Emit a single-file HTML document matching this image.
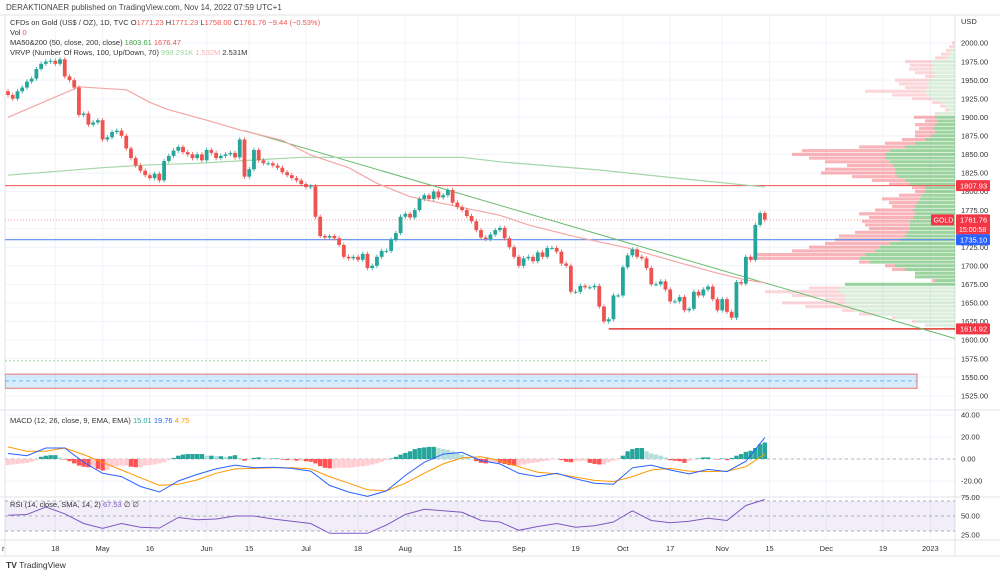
<!DOCTYPE html>
<html><head><meta charset="utf-8"><style>
html,body{margin:0;padding:0;background:#fff;}
svg{display:block;font-family:"Liberation Sans",sans-serif;}
</style></head><body>
<svg id="chart" width="1000" height="575" viewBox="0 0 1000 575" xmlns="http://www.w3.org/2000/svg">
<rect x="0" y="0" width="1000" height="575" fill="#fff"/>
<g id="grid"></g>
<defs>
<clipPath id="mainClip"><rect x="5" y="15" width="950" height="395"/></clipPath>
<clipPath id="macdClip"><rect x="5" y="410" width="950" height="87"/></clipPath>
<clipPath id="rsiClip"><rect x="5" y="497" width="950" height="43"/></clipPath>
</defs>
<g id="main" clip-path="url(#mainClip)"></g>
<g id="macd" clip-path="url(#macdClip)"></g>
<g id="rsi" clip-path="url(#rsiClip)"></g>
<g id="axes"></g>
<g id="legend" font-size="7.5" fill="#333">
<text x="6" y="10" font-size="8" fill="#444">DERAKTIONAER published on TradingView.com, Nov 14, 2022 07:59 UTC+1</text>
<text x="10" y="25">CFDs on Gold (US$ / OZ), 1D, TVC O<tspan fill="#ef5350">1771.23</tspan> H<tspan fill="#ef5350">1771.23</tspan> L<tspan fill="#ef5350">1758.00</tspan> C<tspan fill="#ef5350">1761.76 −9.44 (−0.53%)</tspan></text>
<text x="10" y="35">Vol <tspan fill="#ef5350">0</tspan></text>
<text x="10" y="45">MA50&amp;200 (50, close, 200, close) <tspan fill="#43a047">1803.61</tspan> <tspan fill="#ef5350">1676.47</tspan></text>
<text x="10" y="55">VRVP (Number Of Rows, 100, Up/Down, 70) <tspan fill="#9fd4a3">998.291K</tspan> <tspan fill="#f5b1b0">1.532M</tspan> 2.531M</text>
<text x="10" y="423">MACD (12, 26, close, 9, EMA, EMA) <tspan fill="#26a69a">15.01</tspan> <tspan fill="#2962ff">19.76</tspan> <tspan fill="#ff9800">4.75</tspan></text>
<text x="10" y="507">RSI (14, close, SMA, 14, 2) <tspan fill="#7e57c2">67.53</tspan> ∅ ∅</text>
<text x="6" y="568" font-size="8.5" fill="#333"><tspan font-weight="bold">TV</tspan> TradingView</text>
</g>
</svg>
<script>
const closes=[1930,1925,1935,1940,1948,1952,1965,1972,1975,1976,1972,1978,1955,1950,1940,1903,1905,1890,1893,1896,1870,1873,1880,1882,1875,1858,1845,1835,1828,1822,1818,1824,1815,1841,1848,1855,1860,1853,1850,1845,1850,1842,1856,1852,1845,1848,1850,1852,1846,1870,1820,1830,1856,1842,1838,1838,1835,1832,1826,1822,1818,1815,1810,1806,1807,1766,1740,1738,1740,1737,1728,1712,1710,1712,1708,1716,1697,1700,1712,1720,1720,1735,1744,1766,1770,1765,1775,1790,1795,1790,1800,1792,1795,1802,1785,1779,1775,1767,1760,1748,1738,1736,1742,1748,1751,1737,1725,1712,1700,1710,1712,1706,1718,1712,1724,1724,1719,1703,1700,1665,1665,1673,1671,1671,1673,1645,1625,1628,1660,1660,1698,1714,1722,1712,1710,1697,1675,1675,1679,1668,1652,1652,1658,1640,1642,1665,1660,1668,1672,1655,1640,1655,1638,1630,1678,1676,1712,1708,1755,1771,1762];
const firstOpen=1935;
const ma50Idx=[0,15,25,30,34,42,49,58,64,72,78,85,91,104,110,120,131,142,150,156,160];
const ma50=[1900,1941,1937,1920,1910,1896,1883,1869,1849,1832,1811,1793,1785,1768,1755,1739,1724,1704,1690,1681,1677];
const ma200Idx=[0,20,30,40,62,83,96,104,125,146,160];
const ma200=[1822,1832,1836,1838,1846,1846,1846,1840,1829,1815,1806];
const vpPrices=[2000,1995,1990,1985,1980,1975,1970,1965,1960,1955,1950,1945,1940,1935,1930,1925,1920,1915,1910,1905,1900,1895,1890,1885,1880,1875,1870,1865,1860,1855,1850,1845,1840,1835,1830,1825,1820,1815,1810,1805,1800,1795,1790,1785,1780,1775,1770,1765,1760,1755,1750,1745,1740,1735,1730,1725,1720,1715,1710,1705,1700,1695,1690,1685,1680,1675,1670,1665,1660,1655,1650,1645,1640,1635,1630,1625,1620,1615];
const vpTotal=[3,6,9,14,20,50,45,46,40,30,60,56,50,90,63,43,23,15,10,20,41,30,40,36,40,40,53,70,96,153,163,146,130,108,130,134,103,83,66,43,40,56,73,66,63,80,96,86,93,90,86,100,116,120,130,146,163,200,205,96,70,63,36,40,23,76,146,190,163,130,173,150,113,96,63,43,30,10];
const vpUp=[0,2,3,5,8,24,22,24,22,20,26,28,26,30,28,24,14,10,6,18,20,18,20,22,20,24,30,40,50,65,70,70,65,62,60,60,58,50,45,30,30,33,35,38,40,42,40,42,45,45,45,48,50,55,65,75,80,90,95,85,60,50,40,40,20,110,115,115,110,110,110,105,100,80,60,40,30,10];
const histVals=[-5.5,-5,-4.5,-4,-3.5,-2.5,-1,2,3,3.5,3.5,1.5,-0.5,-2,-4,-6,-7,-7.5,-7,-9,-10.5,-10,-7,-6.5,-6,-6,-7,-7.5,-7.5,-6,-5.5,-5,-4,-3,-1,1,3,4,4.5,4.5,4.5,4.5,3,3,2.5,2.5,2,2.5,3.5,1,-1.5,-0.5,1,1.5,1,0.5,0.5,0.5,-0.5,-1,-1,-1.5,-1.5,-2,-2.5,-4,-6.5,-8,-8.5,-8.5,-8,-8,-8,-7.5,-7,-6.5,-6,-5,-4,-2.5,-1,0.5,2,4,5.5,7,9,10,10.5,11,11,10,9,8.5,7,5.5,4,2,0,-2,-3.5,-4,-3.5,-3,-3.5,-4.5,-5.5,-6,-6,-5,-4,-3.5,-3,-2,-1.5,-0.5,-0.5,-1,-2.5,-3,-2,-2,-1.5,-3.5,-4.5,-5,-5,-3,-1.5,-0.5,3,7,9,10,10,7,5,4,3,1.5,-1,-1.5,-2,-3.5,-2,-0.5,0.5,1.5,1.5,0.5,-0.5,0.5,-1,1,3,4.5,6.5,7.5,10,13.5,15];
const macdLine=[5,3,10,10,-3,-13,-16,-25,-30,-20,-14,-9,-5.5,-8,-7.5,-8.5,-11,-24,-30,-34,-29,-15,-3,4.5,6,-1.5,-4.5,-13,-16,-13,-18,-22,-23,-8,-5.5,-10,-13.5,-9.5,-11.5,-2,19.5];
const signalLine=[11,7,7,10,4,-3,-10,-17,-24,-23,-19,-13,-9,-8.5,-8,-8,-9,-16,-22,-28,-29,-22,-13,-4.5,1,2,-1.5,-7,-12,-13.5,-16.5,-19.5,-20.5,-16,-10,-8.5,-11,-11.5,-11,-7,4.5];
const rsiVals=[51,52,62,53,40,33.6,40,35,34,48,45,46,50,50,46,43,40,27,27,27,38,52,59,57,55,44,42,31,36,40,35,37,42,57,44,41,43,47,44,64,72];
const priceTicks=["2000.00","1975.00","1950.00","1925.00","1900.00","1875.00","1850.00","1825.00","1800.00","1775.00","1750.00","1725.00","1700.00","1675.00","1650.00","1625.00","1600.00","1575.00","1550.00","1525.00"];
const macdTicks=["40.00","20.00","0.00","-20.00"];
const rsiTicks=["75.00","50.00","25.00"];
const timeLabels=["18","May","16","Jun","15","Jul","18","Aug","15","Sep","19","Oct","17","Nov","15","Dec","19","2023"];
const timeIdx=[10,20,30,42,51,63,74,84,95,108,120,130,140,151,161,173,185,195];

const NS="http://www.w3.org/2000/svg";
const px=i=>8+4.73*i;
const py=p=>43+(2000-p)*0.7425;
const mY=v=>459-v*1.1;
const rY=v=>516-(v-50)*0.75;
function mk(tag,attrs,parent){const e=document.createElementNS(NS,tag);for(const k in attrs)e.setAttribute(k,attrs[k]);parent.appendChild(e);return e;}
const grid=document.getElementById('grid'),main=document.getElementById('main'),macd=document.getElementById('macd'),rsi=document.getElementById('rsi'),axes=document.getElementById('axes');

mk('line',{x1:0,y1:15,x2:1000,y2:15,stroke:'#e0e3eb'},grid);
priceTicks.forEach(t=>{const y=py(parseFloat(t));const l=mk('line',{x1:5,y1:y,x2:955,y2:y,stroke:'#f0f3fa'},grid);});
[40,20,0,-20].forEach(v=>mk('line',{x1:5,y1:mY(v),x2:955,y2:mY(v),stroke:'#f0f3fa'},grid));
timeIdx.forEach(i=>{const x=px(i);const l=mk('line',{x1:x,y1:15,x2:x,y2:540,stroke:'#f0f3fa'},grid);});
[410,497,540,556].forEach(y=>mk('line',{x1:0,y1:y,x2:1000,y2:y,stroke:'#e0e3eb'},grid));
mk('line',{x1:955,y1:15,x2:955,y2:556,stroke:'#e0e3eb'},grid);
mk('line',{x1:5,y1:15,x2:5,y2:556,stroke:'#e0e3eb'},grid);

const rowH=5*0.7425;
vpPrices.forEach((p,k)=>{
  const inVA=p>=1675&&p<=1900;
  const y=py(p)-rowH/2+0.3,h=rowH-0.6;
  const t=vpTotal[k]*1.0,u=vpUp[k];
  const r1=mk('rect',{x:955-t,y:y,width:t-u,height:h,fill:inVA?'rgba(242,54,69,0.38)':'rgba(242,54,69,0.2)'},main);
  
  const r2=mk('rect',{x:955-u,y:y,width:u,height:h,fill:inVA?'rgba(76,175,80,0.55)':'rgba(76,175,80,0.2)'},main);
  
});

const zr=mk('rect',{x:5,y:py(1554),width:912,height:py(1535)-py(1554),fill:'rgba(33,150,243,0.18)',stroke:'#e57373','stroke-width':1},main);

mk('line',{x1:5,y1:py(1545),x2:917,y2:py(1545),stroke:'#64b5f6','stroke-dasharray':'4 3'},main);
mk('line',{x1:5,y1:py(1572),x2:767,y2:py(1572),stroke:'#a5d6a7','stroke-dasharray':'2 2'},main);

let l;
l=mk('line',{x1:5,y1:py(1807.93),x2:955,y2:py(1807.93),stroke:'#ef5350','stroke-width':1},main);
l=mk('line',{x1:5,y1:py(1735.1),x2:955,y2:py(1735.1),stroke:'#5b8def','stroke-width':1.2},main);
l=mk('line',{x1:px(127),y1:py(1614.92),x2:955,y2:py(1614.92),stroke:'#e53935','stroke-width':1.5},main);
l=mk('line',{x1:5,y1:py(1761.76),x2:955,y2:py(1761.76),stroke:'#f5a3a3','stroke-dasharray':'1 2'},main);
l=mk('line',{x1:px(50),y1:py(1882),x2:955,y2:py(1602),stroke:'#66bb6a','stroke-width':1},main);

function pathFrom(idx,vals,yf){return vals.map((v,k)=>(k?'L':'M')+px(idx[k]).toFixed(1)+' '+yf(v).toFixed(1)).join(' ');}
l=mk('path',{d:pathFrom(ma200Idx,ma200,py),fill:'none',stroke:'#a5d6a7','stroke-width':1.2},main);
l=mk('path',{d:pathFrom(ma50Idx,ma50,py),fill:'none',stroke:'#f4a6a6','stroke-width':1.2},main);

closes.forEach((c,i)=>{
  const o=i?closes[i-1]:firstOpen;const up=c>=o;const col=up?'#26a69a':'#ef5350';
  const x=px(i);const hi=Math.max(o,c)+3,lo=Math.min(o,c)-3;
  const w=mk('line',{x1:x,y1:py(hi),x2:x,y2:py(lo),stroke:col,'stroke-width':0.8},main);
  
  const yt=py(Math.max(o,c)),yb=py(Math.min(o,c));
  const b=mk('rect',{x:x-1.9,y:yt,width:3.8,height:Math.max(1,yb-yt),fill:col},main);
  
});

mk('line',{x1:5,y1:mY(0),x2:955,y2:mY(0),stroke:'#b2b5be','stroke-dasharray':'3 3'},macd);
histVals.forEach((v,i)=>{
  const prev=i?histVals[i-1]:v;let col;
  if(v>=0)col=v>=prev?'#26a69a':'#b2dfdb';else col=v<prev?'#ff5252':'#ffcdd2';
  const y0=mY(Math.max(0,v)),y1=mY(Math.min(0,v));
  const r=mk('rect',{x:px(i)-2.2,y:y0,width:4.4,height:Math.max(0.5,y1-y0),fill:col},macd);
  
});
const macdIdx=macdLine.map((_,k)=>k*4);
l=mk('path',{d:pathFrom(macdIdx,signalLine,mY),fill:'none',stroke:'#ff9800','stroke-width':1},macd);
l=mk('path',{d:pathFrom(macdIdx,macdLine,mY),fill:'none',stroke:'#2962ff','stroke-width':1},macd);

mk('rect',{x:5,y:rY(70),width:950,height:rY(30)-rY(70),fill:'rgba(126,87,194,0.1)'},rsi);
[70,50,30].forEach(v=>mk('line',{x1:5,y1:rY(v),x2:955,y2:rY(v),stroke:'#9598a1','stroke-dasharray':'3 3','stroke-width':0.8},rsi));
l=mk('path',{d:pathFrom(macdIdx,rsiVals,rY),fill:'none',stroke:'#7e57c2','stroke-width':1},rsi);

function txt(s,x,y,attrs,name){const t=mk('text',Object.assign({x:x,y:y,'font-size':7.5,fill:'#333'},attrs||{}),axes);t.textContent=s;return t;}
txt('USD',961,24,{},'currency-label');
priceTicks.forEach(t=>txt(t,961,py(parseFloat(t))+2.7,{},'price-tick-label'));
macdTicks.forEach(t=>txt(t,961,mY(parseFloat(t))+2.7,{},'macd-tick-label'));
rsiTicks.forEach(t=>txt(t,961,rY(parseFloat(t))+2.7,{},'rsi-tick-label'));
timeLabels.forEach((t,k)=>txt(t,px(timeIdx[k]),551,{'text-anchor':'middle'},'time-tick-label'));
txt('r',2,551,{},'time-tick-label');

function badge(label,p,bg,name){const y=py(p);const r=mk('rect',{x:956,y:y-5.5,width:34,height:11,fill:bg,rx:1},axes);txt(label,960,y+2.7,{fill:'#fff'},name+'-text');}
badge('1807.93',1807.93,'#f23645','resistance-price-badge');
(function(){const y=py(1761.76);
 const r=mk('rect',{x:956,y:y-5.5,width:34,height:20,fill:'#f23645',rx:1},axes);
 txt('1761.76',960,y+2.7,{fill:'#fff'},'current-price-text');txt('15:00:58',959,y+12,{fill:'#fff','font-size':7},'countdown-text');
 const g=mk('rect',{x:931,y:y-5.5,width:23,height:11,fill:'#f23645',rx:1},axes);
 txt('GOLD',933.5,y+2.7,{fill:'#fff','font-size':7},'symbol-badge-text');})();
badge('1735.10',1735.1,'#2962ff','level-price-badge');
badge('1614.92',1614.92,'#f23645','support-price-badge');
</script>
</body></html>
